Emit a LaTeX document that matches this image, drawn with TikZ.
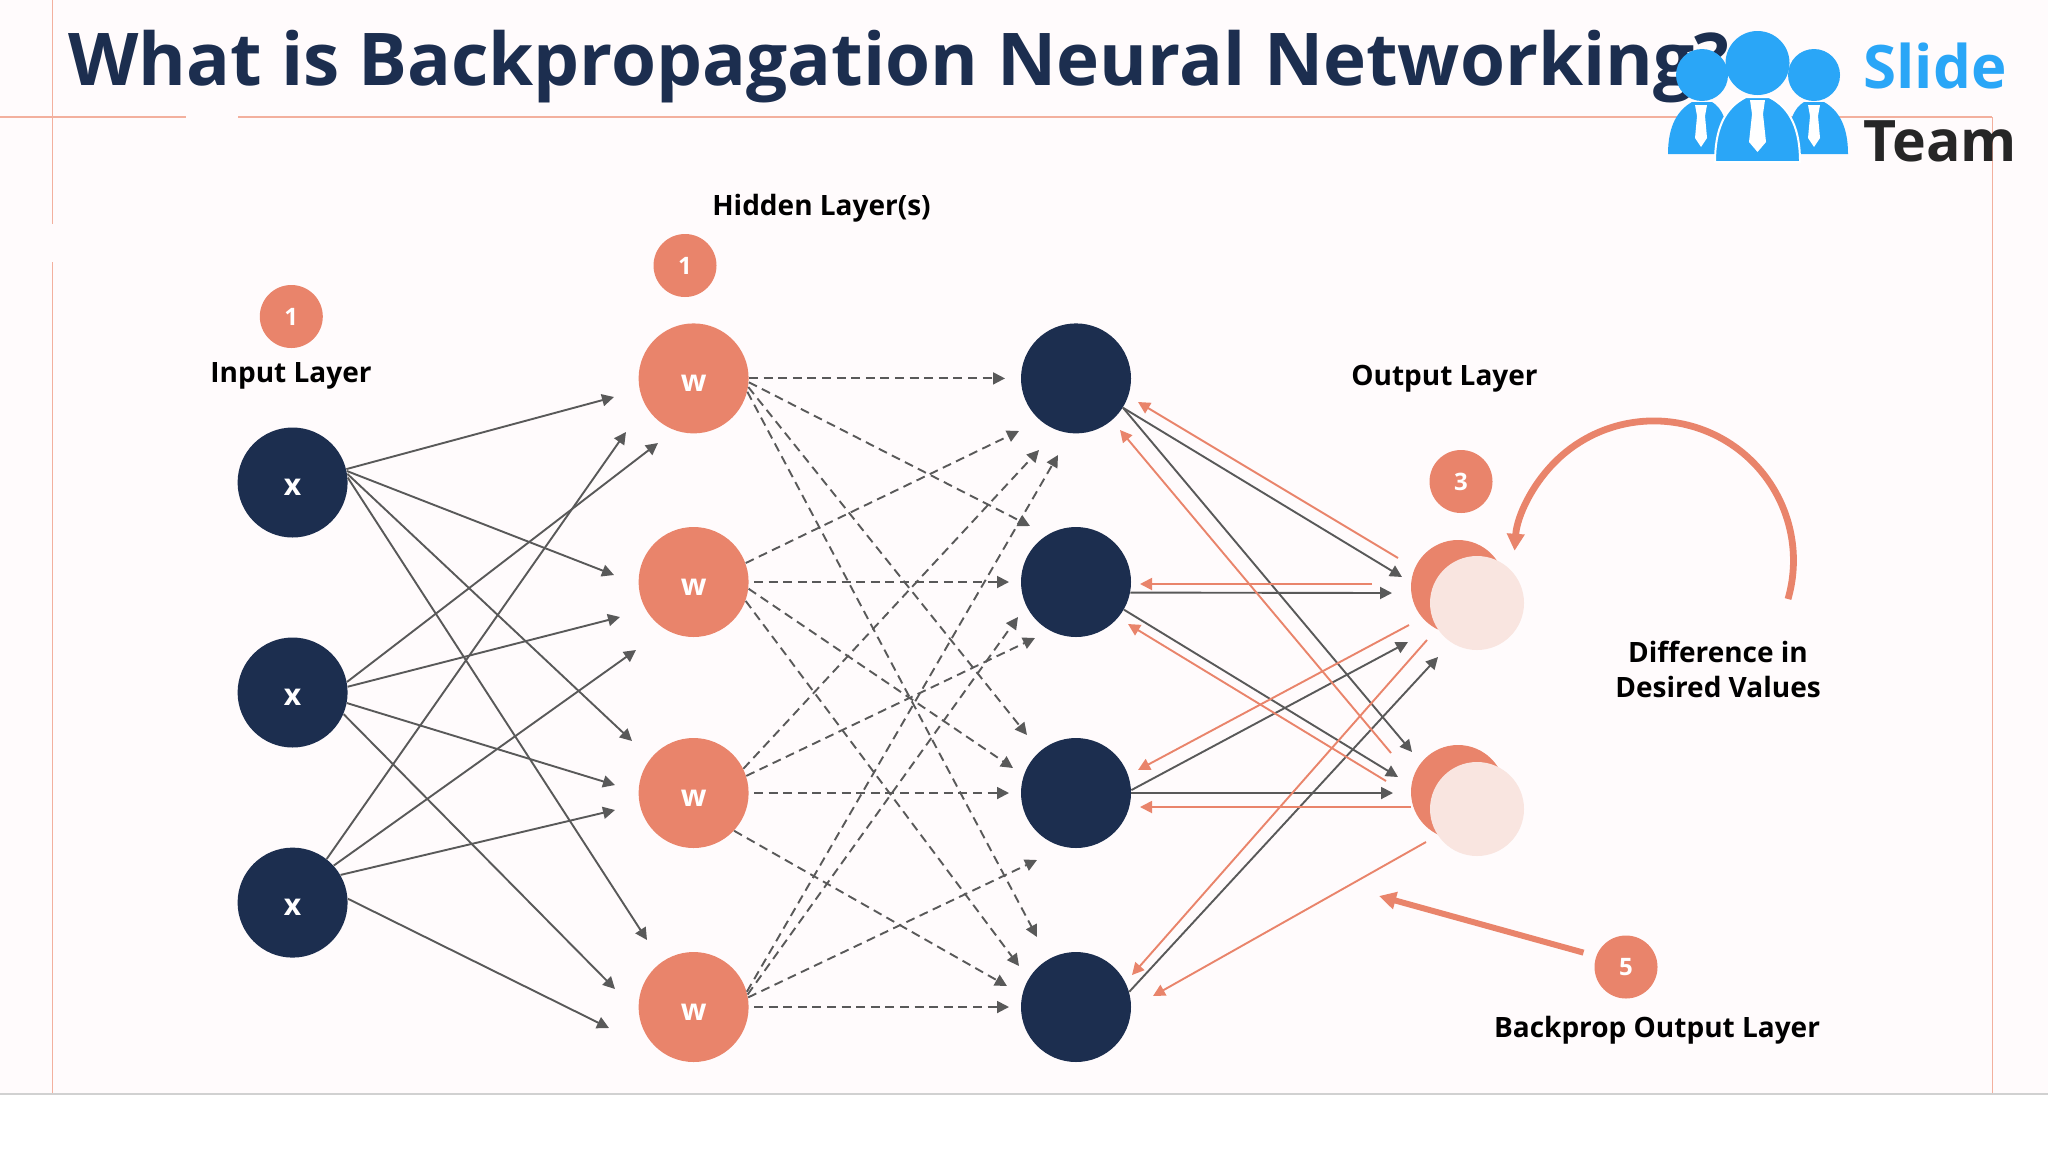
\documentclass[tikz,border=0pt]{standalone}
\usepackage{fontspec}
\setmainfont{Open Sans}
\usetikzlibrary{arrows.meta}
\definecolor{navy}{HTML}{1C2E4F}
\definecolor{salmon}{HTML}{E9846B}
\definecolor{blush}{HTML}{F9E5E0}
\definecolor{paper}{HTML}{FFFBFC}
\definecolor{wire}{HTML}{595959}
\definecolor{rule}{HTML}{F3B09E}
\definecolor{logoblue}{HTML}{2AA6F7}
\tikzset{
  neuron/.style={circle, inner sep=0pt, minimum size=55pt, text=white, font=\fontsize{15}{15}\selectfont\bfseries, text height=13pt},
  inputnode/.style={neuron, fill=navy},
  weightnode/.style={neuron, fill=salmon},
  hiddennode/.style={neuron, fill=navy},
  outback/.style={circle, inner sep=0pt, minimum size=47pt, fill=salmon},
  outfront/.style={circle, inner sep=0pt, minimum size=47pt, fill=blush},
  badge/.style={circle, inner sep=0pt, minimum size=31.5pt, fill=salmon, text=white, font=\fontsize{12}{12}\selectfont\bfseries},
  layertext/.style={align=center, text=black, font=\fontsize{14}{17.5}\selectfont\bfseries},
  wirearrow/.style={draw=wire, line width=0.95pt, -{Triangle[length=6pt,width=6pt]}},
  dasharrow/.style={wirearrow, dash pattern=on 4.5pt off 2.8pt},
  backarrow/.style={draw=salmon, line width=0.95pt, -{Triangle[length=6pt,width=6pt]}},
  bigarrow/.style={draw=salmon, -{Triangle[length=8.5pt,width=8.5pt]}}
}
\begin{document}
\begin{tikzpicture}[x=0.5pt,y=-0.5pt]
\useasboundingbox (0,0) rectangle (2048,1152);
\fill[paper] (0,0) rectangle (2048,1094);
\fill[white] (0,1094) rectangle (2048,1152);
\draw[rule, line width=0.7pt] (0,117) -- (186,117);
\draw[rule, line width=0.7pt] (238,117) -- (1992,117);
\draw[rule, line width=0.4pt] (52,0) -- (52,224);
\draw[rule, line width=0.4pt] (52,262) -- (52,1094);
\draw[rule, line width=0.5pt] (1992,117) -- (1992,1094);
\draw[black!18, line width=0.6pt] (0,1094) -- (2048,1094);
\node[anchor=base west, inner sep=0pt, text=navy, font=\fontsize{36.4}{37}\selectfont\bfseries] (title) at (68,85) {What is Backpropagation Neural Networking?};

\node[inputnode] (x1) at (292.6,482.5) {x};
\node[inputnode] (x2) at (292.6,692.5) {x};
\node[inputnode] (x3) at (292.6,902.6) {x};
\node[weightnode] (w1) at (693.6,378.4) {w};
\node[weightnode] (w2) at (693.6,582) {w};
\node[weightnode] (w3) at (693.6,793) {w};
\node[weightnode] (w4) at (693.6,1007) {w};
\node[hiddennode] (h1) at (1076,378.4) {};
\node[hiddennode] (h2) at (1076,582) {};
\node[hiddennode] (h3) at (1076,793) {};
\node[hiddennode] (h4) at (1076,1007) {};
\node[outback] (o1) at (1458,587) {};
\node[outfront] (f1) at (1477,603) {};
\node[outback] (o2) at (1458,792) {};
\node[outfront] (f2) at (1477,809) {};

\node[badge] (b1) at (291.3,316.5) {1};
\node[badge] (b2) at (685,265.5) {1};
\node[badge] (b3) at (1461,481.5) {3};
\node[badge] (b5) at (1626,967) {5};
\node[layertext] (inlabel) at (291,376) {Input Layer};
\node[layertext] (hidlabel) at (821.5,208) {Hidden Layer(s)};
\node[layertext] (outlabel) at (1444.5,379) {Output Layer};
\node[layertext] (difflabel) at (1718,669.5) {Difference in\\Desired Values};
\node[layertext] (backlabel) at (1657,1030) {Backprop Output Layer};

\coordinate (s1) at (614,397);
\coordinate (s2) at (614,575);
\coordinate (s3) at (632,741);
\coordinate (s4) at (647,940);
\coordinate (s5) at (658,443);
\coordinate (s6) at (620,617);
\coordinate (s7) at (615,785);
\coordinate (s8) at (615,989);
\coordinate (s9) at (626,432);
\coordinate (s10) at (636,650);
\coordinate (s11) at (615,810);
\coordinate (s12) at (609,1028);
\draw[wirearrow] (x1.14) -- (s1);
\draw[wirearrow] (x1.12) -- (s2);
\draw[wirearrow] (x1.9) -- (s3);
\draw[wirearrow] (x1.5) -- (s4);
\draw[wirearrow] (x2.11) -- (s5);
\draw[wirearrow] (x2.6) -- (s6);
\draw[wirearrow] (x2.-11) -- (s7);
\draw[wirearrow] (x2.-23) -- (s8);
\draw[wirearrow] (x3.52) -- (s9);
\draw[wirearrow] (x3.42) -- (s10);
\draw[wirearrow] (x3.30) -- (s11);
\draw[wirearrow] (x3.4) -- (s12);

\coordinate (d1) at (1005,378.4);
\coordinate (d2) at (1030,526);
\coordinate (d3) at (1027,735);
\coordinate (d4) at (1037,937);
\coordinate (d5) at (1019,431);
\coordinate (d6) at (1009,582);
\coordinate (d7) at (1013,768);
\coordinate (d8) at (1019,966);
\coordinate (d9) at (1039,450);
\coordinate (d10) at (1035,638);
\coordinate (d11) at (1009,793);
\coordinate (d12) at (1007,986);
\coordinate (d13) at (1058,455);
\coordinate (d14) at (1018,617);
\coordinate (d15) at (1037,860);
\coordinate (d16) at (1009,1007);
\draw[dasharrow] (w1.0) -- (d1);
\draw[dasharrow] (w1.-4) -- (d2);
\draw[dasharrow] (w1.-9) -- (d3);
\draw[dasharrow] (w1.-14) -- (d4);
\draw[dasharrow] (w2.20) -- (d5);
\draw[dasharrow, shorten <=2.5pt] (w2.0) -- (d6);
\draw[dasharrow] (w2.-7) -- (d7);
\draw[dasharrow] (w2.-20) -- (d8);
\draw[dasharrow] (w3.26) -- (d9);
\draw[dasharrow] (w3.18) -- (d10);
\draw[dasharrow, shorten <=2.5pt] (w3.0) -- (d11);
\draw[dasharrow] (w3.-43) -- (d12);
\draw[dasharrow] (w4.16) -- (d13);
\draw[dasharrow] (w4.13) -- (d14);
\draw[dasharrow] (w4.10) -- (d15);
\draw[dasharrow, shorten <=2.5pt] (w4.0) -- (d16);

\coordinate (r1) at (1402,577);
\coordinate (r2) at (1412,752);
\coordinate (r3) at (1392,593);
\coordinate (r4) at (1398,777);
\coordinate (r5) at (1408,642);
\coordinate (r6) at (1393,793);
\coordinate (r7) at (1438,657);
\draw[wirearrow] (h1.-32) -- (r1);
\draw[wirearrow] (h1.-32) -- (r2);
\draw[wirearrow] (h2.-11) -- (r3);
\draw[wirearrow] (h2.-30) -- (r4);
\draw[wirearrow] (h3.3) -- (r5);
\draw[wirearrow] (h3.0) -- (r6);
\draw[wirearrow] (h4.16) -- (r7);

\coordinate (p1) at (1398,558);
\coordinate (q1) at (1138,402);
\coordinate (p2) at (1372,584);
\coordinate (q2) at (1140,584);
\coordinate (p3) at (1409,625);
\coordinate (q3) at (1138,770);
\coordinate (p4) at (1427,640);
\coordinate (q4) at (1132,975);
\coordinate (p5) at (1391,753);
\coordinate (q5) at (1120,430);
\coordinate (p6) at (1386,781);
\coordinate (q6) at (1128,624);
\coordinate (p7) at (1411,807);
\coordinate (q7) at (1140,807);
\coordinate (p8) at (1426,842);
\coordinate (q8) at (1153,996);
\draw[backarrow] (p1) -- (q1);
\draw[backarrow] (p2) -- (q2);
\draw[backarrow] (p3) -- (q3);
\draw[backarrow] (p4) -- (q4);
\draw[backarrow] (p5) -- (q5);
\draw[backarrow] (p6) -- (q6);
\draw[backarrow] (p7) -- (q7);
\draw[backarrow] (p8) -- (q8);

\coordinate (looptail) at (1788,599);
\coordinate (backtip) at (1379,896);
\draw[bigarrow, line width=3.4pt] (looptail) arc[start angle=-16, end angle=176, radius=69.8pt];
\draw[bigarrow, line width=3pt, shorten <=6.5pt] (b5.160) -- (backtip);

\fill[logoblue] (1702,75) circle (26);
\fill[logoblue] (1814,75) circle (26);
\fill[logoblue] (1757.5,63) circle (32);
\fill[logoblue] (1668,154) .. controls (1668,125) and (1678,110) .. (1692,102) -- (1712,102) .. controls (1722,108) and (1728,120) .. (1730,154) -- cycle;
\fill[logoblue] (1848,154) .. controls (1848,125) and (1838,110) .. (1824,102) -- (1804,102) .. controls (1794,108) and (1788,120) .. (1786,154) -- cycle;
\filldraw[logoblue, draw=white, line width=1pt] (1715,162) .. controls (1715,130) and (1724,108) .. (1746,97) -- (1769,97) .. controls (1791,108) and (1800,130) .. (1800,162) -- cycle;
\fill[white] (1750,100) -- (1765,100) -- (1763,114) -- (1766,142) -- (1757.5,152) -- (1749,142) -- (1752,114) -- cycle;
\fill[white] (1695,105) -- (1707,105) -- (1705,116) -- (1707,138) -- (1701,147) -- (1695,138) -- (1697,116) -- cycle;
\fill[white] (1808,105) -- (1820,105) -- (1818,116) -- (1820,138) -- (1814,147) -- (1808,138) -- (1810,116) -- cycle;
\node[anchor=base west, inner sep=0pt, text=logoblue, font=\fontsize{30}{30}\selectfont\bfseries] (slide) at (1863,88) {Slide};
\node[anchor=base west, inner sep=0pt, text=black!85, font=\fontsize{28.6}{29}\selectfont\bfseries] (team) at (1863,161) {Team};
\end{tikzpicture}
\end{document}
